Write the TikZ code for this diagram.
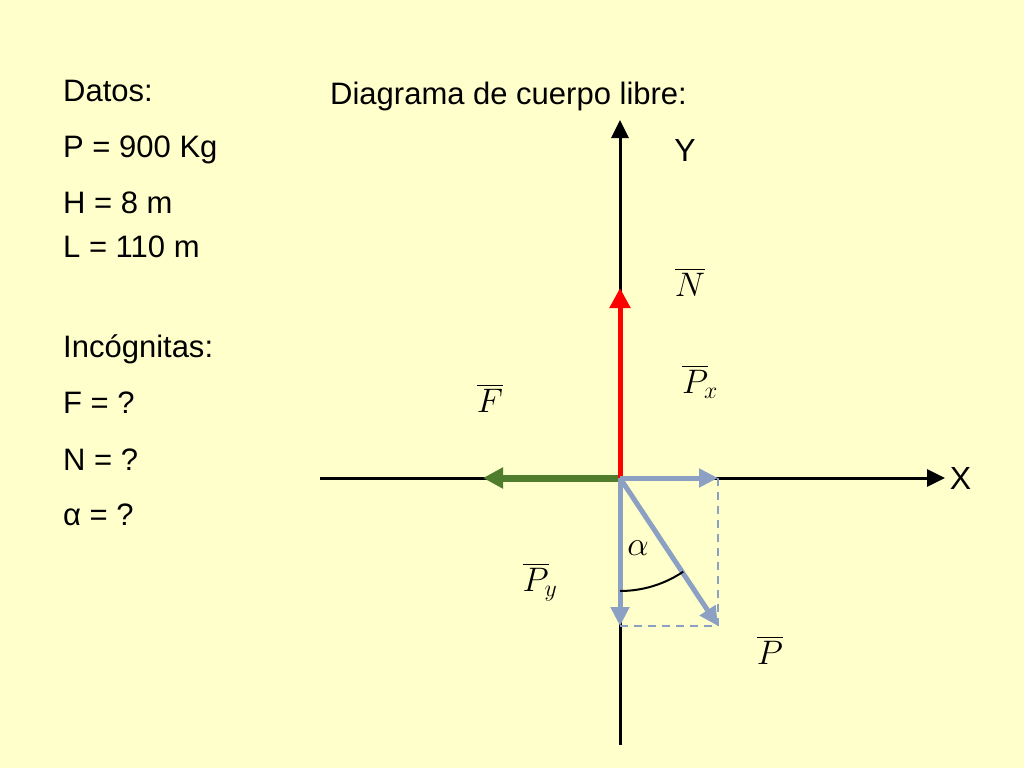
\RequirePackage{fix-cm}
\documentclass[tikz,border=0pt]{standalone}
\usepackage{amsmath}
\usepackage{fontspec}
\setmainfont{Liberation Sans}
\usetikzlibrary{arrows.meta}
\definecolor{paper}{RGB}{255,255,204}
\definecolor{fgreen}{RGB}{80,125,45}
\definecolor{pcomp}{RGB}{140,160,196}

\begin{document}
\begin{tikzpicture}[x=1pt,y=-1pt,>={Triangle[length=18pt,width=17pt]},
    txt/.style={anchor=base west,inner sep=0pt,font=\fontsize{31}{37}\selectfont},
    vlbl/.style={font=\fontsize{34}{40}\selectfont},
    axis/.style={line width=3pt,black},
    comp/.style={line width=5pt,draw=pcomp,-{Triangle[length=19pt,width=18pt]}},
    aux/.style={line width=2pt,draw=pcomp,dash pattern=on 8pt off 6pt}]
      \fill[paper] (0,0) rectangle (1024,768);
      \useasboundingbox (0,0) rectangle (1024,768);
      % data and unknowns
      \node[txt] (datos) at (63,101) {Datos:};
      \node[txt] (peso) at (63,157) {P = 900 Kg};
      \node[txt] (altura) at (63,213) {H = 8 m};
      \node[txt] (largo) at (63,257) {L = 110 m};
      \node[txt] (incog) at (63,357) {Incógnitas:};
      \node[txt] (incF) at (63,413) {F = ?};
      \node[txt] (incN) at (63,470) {N = ?};
      \node[txt] (incA) at (63,525) {α = ?};
      \node[txt] (titulo) at (330,104) {Diagrama de cuerpo libre:};
      % free body diagram
      \coordinate (origin) at (620,478);
      \coordinate (Xs) at (320,478);
      \coordinate (Xend) at (945,478);
      \coordinate (Ys) at (620,745);
      \coordinate (Yend) at (620,120);
      \coordinate (Nend) at (620,288);
      \coordinate (Fend) at (483,478);
      \coordinate (Pxend) at (718,478);
      \coordinate (Pyend) at (620,626);
      \coordinate (Pend) at (718,626);
      \draw[axis,->] (Xs) -- (Xend) node[anchor=west,font=\fontsize{32}{38}\selectfont] (xlbl) {X};
      \draw[axis,->] (Ys) -- (Yend);
      \node[font=\fontsize{32}{38}\selectfont] (ylbl) at (685,150) {Y};
      \draw[aux] (Pxend) -- (Pend);
      \draw[aux] (Pyend) -- (Pend);
      \draw[line width=7pt,fgreen,-{Triangle[length=20pt,width=20pt]}] (origin) -- (Fend);
      \draw[line width=5pt,red,-{Triangle[length=20pt,width=20pt]}] (origin) -- (Nend);
      \draw[comp] (origin) -- (Pxend);
      \draw[comp] (origin) -- (Pyend);
      \draw[comp] (origin) -- (Pend);
      \draw[line width=2pt] (origin) ++(90:113) arc[start angle=90,end angle=56,radius=113];
      \node[vlbl] (alpha) at (638,548) {$\alpha$};
      \node[vlbl] (Nlbl) at (690,282) {$\overline{N}$};
      \node[vlbl] (Flbl) at (490,398) {$\overline{F}$};
      \node[vlbl] (Pxlbl) at (700,382) {$\overline{P}_{\!x}$};
      \node[vlbl] (Pylbl) at (540,582) {$\overline{P}_{\!y}$};
      \node[vlbl] (Plbl) at (770,650) {$\overline{P}$};
\end{tikzpicture}
\end{document}
